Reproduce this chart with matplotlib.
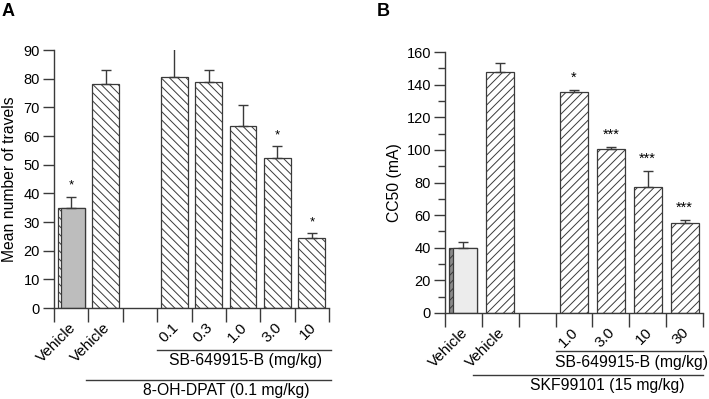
import numpy as np
import matplotlib
matplotlib.use("Agg")
import matplotlib.pyplot as plt
import matplotlib.transforms as mtransforms

plt.rcParams['font.family'] = ['Liberation Sans', 'DejaVu Sans']
plt.rcParams['hatch.linewidth'] = 0.7

# Panel A: 8-OH-DPAT study
a_labels = ["Vehicle", "Vehicle", "", "0.1", "0.3", "1.0", "3.0", "10"]
a_pos = [0, 1, 3, 4, 5, 6, 7]
a_vals = [35, 78, 80.5, 79, 63.4, 52.2, 24.4]
a_err = [3.7, 5, 10.3, 4, 7.3, 4.2, 1.7]
a_stars = ["*", "", "", "", "", "*", "*"]

# Panel B: SKF99101 study
b_labels = ["Vehicle", "Vehicle", "", "1.0", "3.0", "10", "30"]
b_pos = [0, 1, 3, 4, 5, 6]
b_vals = [40, 147.8, 135.6, 100.6, 77.3, 55.2]
b_err = [3.5, 5.2, 1.4, 1.2, 9.7, 1.8]
b_stars = ["", "", "*", "***", "***", "***"]

fig = plt.figure(figsize=(7.09, 3.99), dpi=100)
axA = fig.add_axes([54/709, 1-308/399, 275/709, 258/399])
axB = fig.add_axes([445/709, 1-313/399, 258/709, 261/399])

EDGE = "#3a3a3a"
FS = 11.3


def style_axis(ax, nslots, labels, ymax, ystep, minor_step=None):
    ax.set_xlim(0, nslots)
    ax.set_ylim(0, ymax)
    for s in ["top", "right"]:
        ax.spines[s].set_visible(False)
    for s in ["left", "bottom"]:
        ax.spines[s].set_linewidth(1.0)
        ax.spines[s].set_color(EDGE)
    ax.set_xticks(np.arange(0, nslots + 1))
    ax.set_xticklabels([])
    ax.set_xticks(np.arange(nslots) + 0.5, minor=True)
    ax.set_xticklabels(labels, minor=True, rotation=45, ha="right", va="top",
                       rotation_mode="anchor", fontsize=11)
    ax.tick_params(axis="x", which="major", length=10, width=1.0, color=EDGE)
    ax.tick_params(axis="x", which="minor", length=0, pad=9)
    ax.set_yticks(np.arange(0, ymax + 1, ystep))
    if minor_step:
        ax.set_yticks(np.arange(0, ymax + 1, minor_step), minor=True)
        ax.tick_params(axis="y", which="minor", length=5, width=1.0, color=EDGE)
    ax.tick_params(axis="y", which="major", length=8, width=1.0, color=EDGE,
                   labelsize=10.5, pad=2)
    for lab in ax.get_xticklabels(minor=True):
        lab.set_transform(lab.get_transform() +
                          mtransforms.ScaledTranslation(-2/72, 0, fig.dpi_scale_trans))


style_axis(axA, 8, a_labels, 90, 10)
style_axis(axB, 7, b_labels, 160, 20, 10)

# Panel A bars
wA = 0.78
xa = np.array(a_pos) + 0.5
axA.bar(xa[0], a_vals[0], width=wA, color="white", edgecolor=EDGE,
        hatch="\\\\\\\\", linewidth=0.9)
axA.bar(xa[0] + 0.05, a_vals[0], width=wA - 0.1, color="#bdbdbd", edgecolor=EDGE,
        linewidth=0.9)
axA.bar(xa[1:], a_vals[1:], width=wA, color="white", edgecolor=EDGE,
        hatch="\\\\\\\\", linewidth=0.9)
axA.errorbar(xa, a_vals, yerr=[np.zeros(len(a_vals)), a_err], fmt="none",
             ecolor=EDGE, elinewidth=1.0, capsize=3.6, capthick=1.0)
for x, v, e, s in zip(xa, a_vals, a_err, a_stars):
    if s:
        axA.text(x, v + e + 1.8, s, ha="center", va="bottom", fontsize=9.5)

# Panel B bars
wB = 0.76
xb = np.array(b_pos) + 0.5
axB.bar(xb[0], b_vals[0], width=wB, color="#8a8a8a", edgecolor=EDGE,
        hatch="////", linewidth=0.9)
axB.bar(xb[0] + 0.05, b_vals[0], width=wB - 0.1, color="#ececec", edgecolor=EDGE,
        linewidth=0.9)
axB.bar(xb[1:], b_vals[1:], width=wB, color="white", edgecolor=EDGE,
        hatch="////", linewidth=0.9)
axB.errorbar(xb, b_vals, yerr=[np.zeros(len(b_vals)), b_err], fmt="none",
             ecolor=EDGE, elinewidth=1.0, capsize=3.6, capthick=1.0)
for x, v, e, s in zip(xb, b_vals, b_err, b_stars):
    if s:
        axB.text(x, v + e + 3, s, ha="center", va="bottom", fontsize=10.5)

# y labels
axA.set_ylabel("Mean number of travels", fontsize=FS)
axA.yaxis.set_label_coords(-0.135, 0.5)
axB.set_ylabel("CC50 (mA)", fontsize=FS)
axB.yaxis.set_label_coords(-0.167, 0.5)

# treatment brackets
trA = mtransforms.blended_transform_factory(axA.transData, axA.transAxes)
axA.plot([3, 8.05], [-0.163, -0.163], transform=trA, color=EDGE, lw=1.0, clip_on=False)
axA.text(5.58, -0.203, "SB-649915-B (mg/kg)", transform=trA, ha="center", va="center",
         fontsize=FS)
axA.plot([0.93, 8.05], [-0.279, -0.279], transform=trA, color=EDGE, lw=1.0, clip_on=False)
axA.text(5.0, -0.318, "8-OH-DPAT (0.1 mg/kg)", transform=trA, ha="center", va="center",
         fontsize=FS)

trB = mtransforms.blended_transform_factory(axB.transData, axB.transAxes)
axB.plot([3, 7], [-0.146, -0.146], transform=trB, color=EDGE, lw=1.0, clip_on=False)
axB.text(5.05, -0.188, "SB-649915-B (mg/kg)", transform=trB, ha="center", va="center",
         fontsize=FS)
axB.plot([0.76, 7], [-0.2375, -0.2375], transform=trB, color=EDGE, lw=1.0, clip_on=False)
axB.text(4.4, -0.276, "SKF99101 (15 mg/kg)", transform=trB, ha="center", va="center",
         fontsize=FS)

# panel letters
fig.text(2/709, 1-3/399, "A", fontsize=13, fontweight="bold", ha="left", va="top")
fig.text(377/709, 1-3/399, "B", fontsize=13, fontweight="bold", ha="left", va="top")

fig.savefig("out.png", dpi=100)
